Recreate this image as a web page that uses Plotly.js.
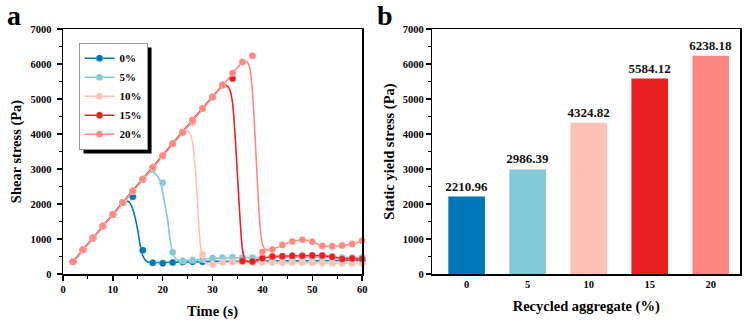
<!DOCTYPE html>
<html>
<head>
<meta charset="utf-8">
<script src="https://cdn.plot.ly/plotly-3.0.1.min.js"></script>
<style>html,body{margin:0;padding:0;background:#fff;}#chart{width:746px;height:324px;}</style>
</head>
<body>
<div id="chart"></div>
<script>
// ---------- Panel a: shear stress vs time ----------
var seriesNames = ['0%', '5%', '10%', '15%', '20%'];
var seriesColors = ['#0077B6', '#84C9DA', '#FEC2B4', '#E82020', '#FF8884'];

var time = [2,4,6,8,10,12,14,16,18,20,22,24,26,28,30,32,34,36,38,40,42,44,46,48,50,52,54,56,58,60];

var stress0 = [350,690,1030,1370,1700,2040,2210,680,320,310,330,340,350,350,360,360,360,370,370,370,370,370,380,380,380,380,380,390,390,390];
var stress5 = [350,690,1030,1370,1700,2040,2370,2710,2986,2610,620,380,400,420,460,470,480,470,470,470,470,470,470,470,470,470,470,475,475,475];
var stress10 = [350,690,1030,1370,1700,2040,2370,2710,3050,3380,3720,4050,4325,560,270,330,340,340,330,330,330,320,320,320,320,310,310,310,310,300];
var stress15 = [350,690,1030,1370,1700,2040,2370,2710,3050,3380,3720,4050,4390,4730,5060,5400,5584,370,360,450,500,510,520,520,530,530,490,430,440,430];
var stress20 = [350,690,1030,1370,1700,2040,2370,2710,3050,3380,3720,4050,4390,4730,5060,5400,5740,6060,6238,630,700,830,930,980,925,800,790,815,855,950];

// smoothed fit curves
var fitT0 = [2,11,12,12.5,13,13.5,14,14.5,15,15.5,16,16.5,17,18,20,25,30,40,50,60];
var fitS0 = [350,1870,2020,2065,2075,2010,1850,1590,1250,800,520,400,345,325,330,345,360,370,380,390];
var fitT5 = [2,16,17,17.5,18,18.5,19,19.5,20,20.5,21,21.5,22,22.5,23,24,26,30,40,50,60];
var fitS5 = [350,2710,2850,2900,2910,2870,2780,2620,2350,1930,1530,960,620,460,400,385,400,450,470,470,475];
var fitT10 = [2,23,24,24.5,25,25.5,26,26.5,27,27.5,28,28.5,29,30,31,33,40,50,60];
var fitS10 = [350,3880,4030,4080,4090,4000,3750,3100,2000,900,450,320,280,280,310,330,330,320,305];
var fitT15 = [2,31,32,32.5,33,33.5,34,34.5,35,35.5,36,36.5,37,37.5,38,40,42,46,50,52,54,56,58,60];
var fitS15 = [350,5230,5370,5390,5370,5250,4900,4000,2800,1600,700,420,360,355,370,450,500,515,525,525,490,440,435,430];
var fitT20 = [2,34,35,36,36.5,37,37.5,38,38.5,39,39.5,40,40.5,41,42,44,46,48,50,52,54,56,58,60];
var fitS20 = [350,5720,5900,6060,6090,6050,5850,5200,4000,2600,1400,850,720,690,700,830,930,980,925,800,790,815,855,950];

// ---------- Panel b: static yield stress ----------
var aggCategories = ['0', '5', '10', '15', '20'];
var yieldStress = [2210.96, 2986.39, 4324.82, 5584.12, 6238.18];

var pointSeries = [stress0, stress5, stress10, stress15, stress20];
var fitTs = [fitT0, fitT5, fitT10, fitT15, fitT20];
var fitSs = [fitS0, fitS5, fitS10, fitS15, fitS20];

var FONT = 'Liberation Serif, Times New Roman, serif';
var traces = [];
for (var i = 0; i < seriesNames.length; i++) {
  var c = seriesColors[i];
  var mk = {color: c, size: 7, line: {width: 0.8, color: 'rgba(255,255,255,0.35)'}};
  traces.push({
    x: fitTs[i], y: fitSs[i], type: 'scatter', mode: 'lines',
    line: {color: c, width: 1.6, shape: 'spline', smoothing: 0.8},
    legendgroup: seriesNames[i], showlegend: false, hoverinfo: 'skip',
    xaxis: 'x', yaxis: 'y'
  });
  traces.push({
    x: time, y: pointSeries[i], type: 'scatter', mode: 'markers',
    marker: mk, cliponaxis: false,
    legendgroup: seriesNames[i], showlegend: false,
    xaxis: 'x', yaxis: 'y'
  });
  // legend entry (line + marker)
  traces.push({
    x: [null], y: [null], type: 'scatter', mode: 'lines+markers', name: seriesNames[i],
    line: {color: c, width: 1.6}, marker: mk,
    legendgroup: seriesNames[i], showlegend: true,
    xaxis: 'x', yaxis: 'y'
  });
}

traces.push({
  x: aggCategories, y: yieldStress, type: 'bar',
  marker: {color: seriesColors, line: {width: 0}},
  width: 0.6,
  text: yieldStress.map(function (v) { return v.toFixed(2); }),
  textposition: 'outside', cliponaxis: false, constraintext: 'none',
  textfont: {family: FONT, size: 13, color: '#111', weight: 700},
  showlegend: false,
  xaxis: 'x2', yaxis: 'y2'
});

var L = 63, R = 6.3, T = 29.3, B = 49.7;
var PW = 746 - L - R, PH = 324 - T - B;
function px2x(p) { return (p - L) / PW; }
function px2y(p) { return 1 - (p - T) / PH; }

var tickFont = {family: FONT, size: 10.5, color: '#000', weight: 700};
var titleFont = {family: FONT, size: 14.5, color: '#000', weight: 700};

var axCommon = {
  showline: true, linecolor: '#000', linewidth: 1.5, mirror: true,
  showgrid: false, zeroline: false,
  ticks: 'outside', ticklen: 5, tickwidth: 1.3, tickcolor: '#000',
  tickfont: tickFont
};
function ax(extra) { var o = {}; for (var k in axCommon) o[k] = axCommon[k]; for (var k2 in extra) o[k2] = extra[k2]; return o; }

var layout = {
  width: 746, height: 324,
  margin: {l: L, r: R, t: T, b: B},
  paper_bgcolor: '#fff', plot_bgcolor: '#fff',
  font: {family: FONT, color: '#000'},
  xaxis: ax({domain: [0, px2x(362)], range: [0, 60], dtick: 10, tick0: 0,
    minor: {dtick: 5, ticks: 'outside', ticklen: 3, tickwidth: 1.1, tickcolor: '#000'},
    title: {text: 'Time (s)', font: titleFont, standoff: 12}, anchor: 'y'}),
  yaxis: ax({domain: [0, 1], range: [0, 7000], dtick: 1000, tick0: 0,
    minor: {dtick: 500, ticks: 'outside', ticklen: 3, tickwidth: 1.1, tickcolor: '#000'},
    ticklabelstandoff: 3,
    title: {text: 'Shear stress (Pa)', font: titleFont, standoff: 5}, anchor: 'x'}),
  xaxis2: ax({domain: [px2x(432.3), 1], type: 'category', range: [-0.56, 4.48],
    ticks: '', title: {text: 'Recycled aggregate (%)', font: titleFont, standoff: 12}, anchor: 'y2'}),
  yaxis2: ax({domain: [0, 1], range: [0, 7000], dtick: 1000, tick0: 0,
    minor: {dtick: 500, ticks: 'outside', ticklen: 3, tickwidth: 1.1, tickcolor: '#000'},
    title: {text: 'Static yield stress (Pa)', font: titleFont, standoff: 5}, anchor: 'x2'}),
  showlegend: true,
  legend: {
    x: px2x(78.5), y: px2y(43), xanchor: 'left', yanchor: 'top',
    xref: 'paper', yref: 'paper',
    bgcolor: '#fff', bordercolor: '#999', borderwidth: 1,
    font: {family: FONT, size: 11, color: '#000', weight: 700},
    itemwidth: 30, tracegroupgap: 0
  },
  annotations: [
    {xref: 'paper', yref: 'paper', x: px2x(5), y: px2y(-2), xanchor: 'left', yanchor: 'top',
     text: 'a', showarrow: false, font: {family: FONT, size: 28, color: '#000', weight: 700}},
    {xref: 'paper', yref: 'paper', x: px2x(375), y: px2y(-2), xanchor: 'left', yanchor: 'top',
     text: 'b', showarrow: false, font: {family: FONT, size: 28, color: '#000', weight: 700}}
  ],
  shapes: []
};

Plotly.newPlot('chart', traces, layout, {staticPlot: true, displayModeBar: false}).then(function (gd) {
  var bg = document.querySelector('.legend .bg');
  if (!bg) return;
  var r = bg.getBoundingClientRect();
  var host = document.getElementById('chart').getBoundingClientRect();
  var x0 = r.left - host.left, y0 = r.top - host.top, x1 = r.right - host.left, y1 = r.bottom - host.top;
  var off = 4.5;
  return Plotly.relayout(gd, {shapes: [{
    type: 'rect', xref: 'paper', yref: 'paper', layer: 'above',
    x0: px2x(x0 + off), x1: px2x(x1 + off), y0: px2y(y1 + off), y1: px2y(y0 + off),
    fillcolor: '#000', line: {width: 0}
  }]});
});
</script>
</body>
</html>
